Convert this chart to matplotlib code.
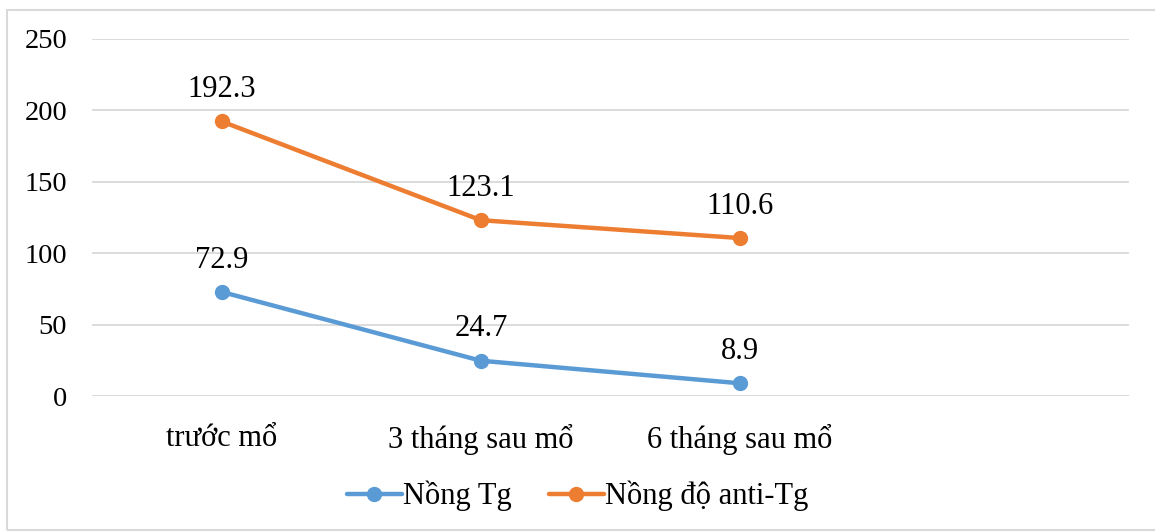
import matplotlib
matplotlib.use("Agg")
import matplotlib.pyplot as plt
from matplotlib.patches import Rectangle

categories = ["trước mổ", "3 tháng sau mổ", "6 tháng sau mổ", ""]
tg_values = [72.9, 24.7, 8.9]
anti_tg_values = [192.3, 123.1, 110.6]
series_names = ["Nồng Tg", "Nồng độ anti-Tg"]
yticks = [0, 50, 100, 150, 200, 250]

plt.rcParams['font.family'] = ['Liberation Serif', 'DejaVu Serif']

W, H = 1155, 532
fig = plt.figure(figsize=(W / 100, H / 100), dpi=100)
ax = fig.add_axes([92 / W, 1 - 396 / H, (1129 - 92) / W, (396 - 39) / H])

blue = "#5B9BD5"
orange = "#ED7D31"

x = list(range(len(tg_values)))
ax.plot(x, tg_values, color=blue, lw=3.2, marker="o", ms=10, label=series_names[0],
        solid_capstyle="round")
ax.plot(x, anti_tg_values, color=orange, lw=3.2, marker="o", ms=10, label=series_names[1],
        solid_capstyle="round")

for xi, v in zip(x, tg_values):
    ax.annotate(f"{v}", (xi, v), xytext=(0, 12.5), textcoords="offset points",
                ha="center", va="bottom", fontsize=22)
for xi, v in zip(x, anti_tg_values):
    ax.annotate(f"{v}", (xi, v), xytext=(0, 12.5), textcoords="offset points",
                ha="center", va="bottom", fontsize=22)

ax.set_xlim(-0.5, len(categories) - 0.5)
ax.set_ylim(0, 250)
ax.set_yticks(yticks)
ax.set_yticklabels([str(t) for t in yticks], fontsize=20.5)
ax.set_xticks(range(len(categories)))
ax.set_xticklabels(categories, fontsize=22)
ax.tick_params(axis="both", length=0)
ax.tick_params(axis="y", pad=18)
ax.tick_params(axis="x", pad=20)
for lbl in ax.get_yticklabels():
    lbl.set_horizontalalignment("right")

ax.grid(axis="y", color="#D9D9D9", lw=1.3)
ax.set_axisbelow(True)
for s in ax.spines.values():
    s.set_visible(False)
ax.axhline(0, color="#D9D9D9", lw=1.3, zorder=0)

leg = fig.legend(loc="center", bbox_to_anchor=(0.5, 1 - 496 / H), ncol=2, frameon=False,
                 fontsize=22, handlelength=1.8, handletextpad=0.05, columnspacing=1.2)

fig.patches.append(Rectangle((7 / W, 0.003), 1.2, 1 - 10 / H - 0.003, transform=fig.transFigure,
                             fill=False, edgecolor="#D9D9D9", lw=1.5))

fig.savefig("out.png", dpi=100)
